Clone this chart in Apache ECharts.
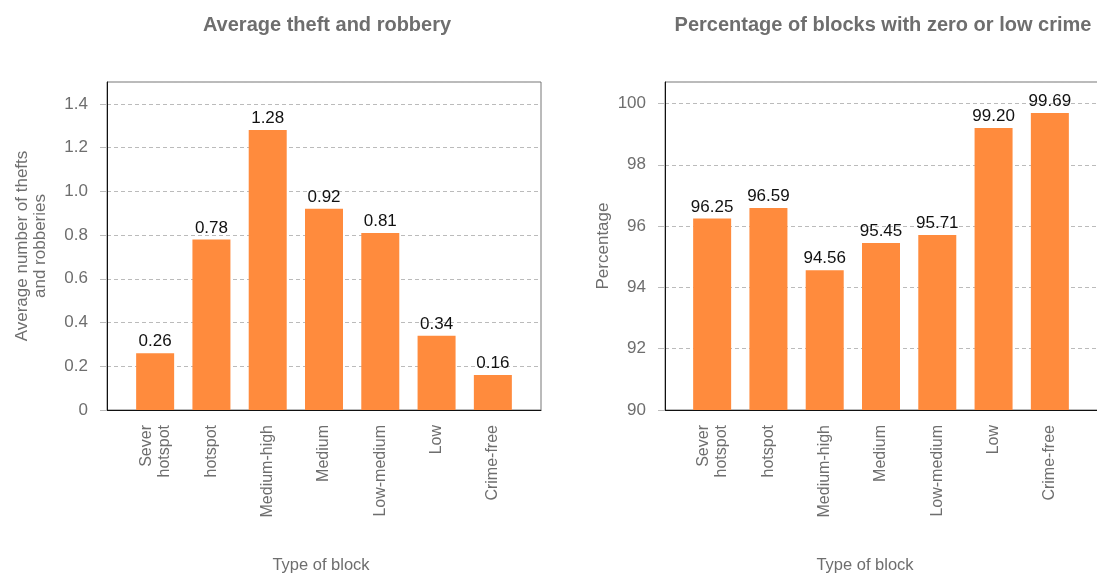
<!DOCTYPE html>
<html><head><meta charset="utf-8">
<script src="https://cdn.jsdelivr.net/npm/echarts@6/dist/echarts.min.js"></script>
<style>html,body{margin:0;padding:0;background:#fff}#c{width:1097px;height:573px}</style>
</head><body><div id="c"></div>
<script>
const categories = ['Sever\nhotspot', 'hotspot', 'Medium-high', 'Medium', 'Low-medium', 'Low', 'Crime-free'];
const theftValues = [0.26, 0.78, 1.28, 0.92, 0.81, 0.34, 0.16];
const pctValues = [96.25, 96.59, 94.56, 95.45, 95.71, 99.20, 99.69];
const leftTitle = 'Average theft and robbery';
const rightTitle = 'Percentage of blocks with zero or low crime';
const leftYName = 'Average number of thefts\nand robberies';
const rightYName = 'Percentage';
const xName = 'Type of block';

const FONT = '"Liberation Sans", Arial, sans-serif';
const GREY = '#6e6e6e';
const BAR = '#ff8b3d';

function frameY(min, max, interval, name, nameGap, fmt, gi) {
  return {
    gridIndex: gi, type: 'value', min: min, max: max, interval: interval,
    name: name, nameLocation: 'middle', nameGap: nameGap,
    nameTextStyle: {color: GREY, fontSize: 17, fontFamily: FONT, lineHeight: 18},
    axisLine: {show: true, lineStyle: {color: '#111', width: 1}},
    axisTick: {show: true, length: 7, lineStyle: {color: '#bbb'}},
    axisLabel: {color: GREY, fontSize: 17, fontFamily: FONT, margin: 19, formatter: fmt,
      showMaxLabel: false},
    splitLine: {show: true, lineStyle: {color: '#bbb', type: [4, 3]}}
  };
}
function hiddenY(min, max, gi) {
  return {gridIndex: gi, type: 'value', min: min, max: max, show: false, splitLine: {show: false}};
}
function frameX(gi, padRight) {
  return {
    gridIndex: gi, type: 'value', min: 0, max: 1,
    name: xName, nameLocation: 'middle', nameGap: 147,
    nameTextStyle: {color: GREY, fontSize: 16.5, fontFamily: FONT, padding: [0, padRight, 0, 0]},
    axisLine: {show: true, lineStyle: {color: '#111', width: 1}},
    axisTick: {show: false}, axisLabel: {show: false}, splitLine: {show: false}
  };
}
function barX(gi) {
  return {
    gridIndex: gi, type: 'category', data: categories,
    axisLine: {show: false}, axisTick: {show: false},
    axisLabel: {rotate: 90, color: GREY, fontSize: 16, fontFamily: FONT, margin: 15, lineHeight: 18, interval: 0}
  };
}
function barSeries(xi, yi, data, fmt) {
  return {
    type: 'bar', xAxisIndex: xi, yAxisIndex: yi, data: data, barWidth: 38,
    itemStyle: {color: BAR},
    label: {show: true, position: 'top', distance: 3, color: '#111', fontSize: 17, fontFamily: FONT,
      formatter: p => fmt(p.value)},
    silent: true
  };
}

const gridBase = {top: 82, bottom: 163, containLabel: false, outerBoundsMode: 'none'};
const chart = echarts.init(document.getElementById('c'), null, {renderer: 'canvas'});
chart.setOption({
  animation: false,
  backgroundColor: '#fff',
  title: [
    {text: leftTitle, left: 322, top: 10, textAlign: 'center',
      textStyle: {color: GREY, fontSize: 20, fontWeight: 'bold', fontFamily: FONT}},
    {text: rightTitle, left: 878, top: 10, textAlign: 'center',
      textStyle: {color: GREY, fontSize: 20, fontWeight: 'bold', fontFamily: FONT}}
  ],
  grid: [
    Object.assign({left: 107, width: 434, show: true, borderColor: '#777', borderWidth: 1}, gridBase),
    Object.assign({left: 127, width: 394}, gridBase),
    Object.assign({left: 665, width: 440, show: true, borderColor: '#777', borderWidth: 1}, gridBase),
    Object.assign({left: 684, width: 394}, gridBase)
  ],
  xAxis: [frameX(0, 6), barX(1), frameX(2, 40), barX(3)],
  yAxis: [
    frameY(0, 1.5, 0.2, leftYName, 58, v => v === 0 ? '0' : v.toFixed(1), 0),
    hiddenY(0, 1.5, 1),
    frameY(90, 100.7, 2, rightYName, 53, v => String(v), 2),
    hiddenY(90, 100.7, 3)
  ],
  series: [
    barSeries(1, 1, theftValues, v => v.toFixed(2)),
    barSeries(3, 3, pctValues, v => v.toFixed(2))
  ]
});
</script></body></html>
